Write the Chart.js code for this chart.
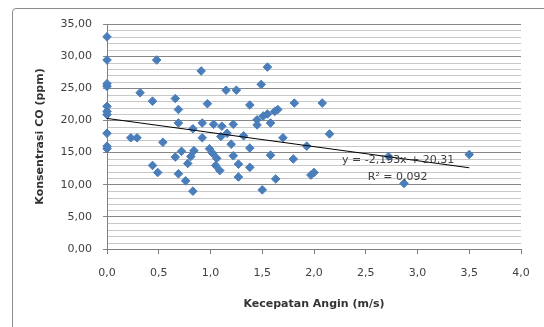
<!DOCTYPE html>
<html>
<head>
<meta charset="utf-8">
<script src="https://cdn.jsdelivr.net/npm/chart.js@4.4.0/dist/chart.umd.min.js"></script>
<style>
  body { margin: 0; background: #fff; }
  #wrap { position: relative; width: 544px; height: 327px; overflow: hidden; }
  #frame { position: absolute; left: 12px; top: 8px; width: 600px; height: 400px; border: 1px solid #8c8c8c; border-radius: 4px; }
  #chart { position: absolute; left: 0; top: 0; }
</style>
</head>
<body>
<div id="wrap">
  <div id="frame"></div>
  <canvas id="chart" width="544" height="327"></canvas>
</div>
<script>
const windSpeed = [
  0, 0, 0, 0, 0, 0, 0, 0, 0, 0,
  0.23, 0.29, 0.32, 0.44, 0.44, 0.48, 0.49, 0.54,
  0.66, 0.69, 0.69, 0.66, 0.69, 0.72, 0.76, 0.78, 0.81, 0.84, 0.83, 0.83, 0.91, 0.92, 0.92, 0.97, 0.99,
  1.03, 1.11, 1.22, 1.10, 1.16, 1.15, 1.25, 1.20, 1.32, 1.02, 1.06, 1.05, 1.09, 1.22, 1.27, 1.27, 1.38, 1.38, 1.38,
  1.45, 1.45, 1.49, 1.51, 1.55, 1.55, 1.58, 1.58, 1.62, 1.65, 1.63, 1.50, 1.70,
  1.81, 1.80, 1.93, 1.97, 2.00, 2.08, 2.15,
  2.72, 2.87, 3.50
]
const coConc = [
  33.0, 29.4, 25.7, 25.3, 22.2, 21.4, 20.9, 18.0, 16.0, 15.6,
  17.3, 17.3, 24.3, 23.0, 13.0, 29.4, 11.9, 16.6,
  23.4, 21.7, 19.6, 14.3, 11.7, 15.2, 10.6, 13.3, 14.4, 15.3, 18.7, 9.0, 27.7, 19.6, 17.3, 22.6, 15.6,
  19.4, 19.1, 19.4, 17.5, 18.0, 24.7, 24.7, 16.3, 17.6, 14.9, 14.1, 13.0, 12.2, 14.5, 13.2, 11.2, 22.4, 15.7, 12.7,
  20.1, 19.3, 25.6, 20.7, 28.3, 21.0, 19.6, 14.6, 21.4, 21.7, 10.9, 9.2, 17.3,
  22.7, 14.0, 16.0, 11.5, 11.9, 22.7, 17.9,
  14.4, 10.2, 14.7
]
const trendSlope = -2.193
const trendIntercept = 20.31
const trendRange = [0, 3.5]
const equationText = 'y = -2,193x + 20,31'
const r2Text = 'R² = 0,092'

const yMax = 35
const yMajorStep = 5
const yMinorStep = 1

const points = windSpeed.map((x, i) => ({ x: x, y: coConc[i] }))
const trendPoints = trendRange.map(x => ({ x: x, y: trendSlope * x + trendIntercept }))

const comma = (v, d) => v.toFixed(d).replace('.', ',')

// minor gridlines every unit, drawn under the major ones
const minorGrid = {
  id: 'minorGrid',
  beforeDraw(chart) {
    const ctx = chart.ctx
    const ys = chart.scales.y
    const area = chart.chartArea
    ctx.save()
    ctx.strokeStyle = '#c8c8c8'
    ctx.lineWidth = 1
    ctx.beginPath()
    for (let v = 0; v <= yMax; v += yMinorStep) {
      if (v % yMajorStep === 0) continue
      const py = Math.round(ys.getPixelForValue(v)) + 0.5
      ctx.moveTo(area.left, py)
      ctx.lineTo(area.right, py)
    }
    ctx.stroke()
    ctx.restore()
  }
}

const equationLabel = {
  id: 'equationLabel',
  afterDatasetsDraw(chart) {
    const ctx = chart.ctx
    const xs = chart.scales.x
    const ys = chart.scales.y
    ctx.save()
    ctx.font = '11px "DejaVu Sans"'
    ctx.fillStyle = '#404040'
    ctx.textBaseline = 'middle'
    ctx.textAlign = 'left'
    ctx.fillText(equationText, xs.getPixelForValue(2.27), ys.getPixelForValue(13.9))
    ctx.fillText(r2Text, xs.getPixelForValue(2.52), ys.getPixelForValue(11.2))
    ctx.restore()
  }
}

new Chart(document.getElementById('chart'), {
  type: 'scatter',
  data: {
    datasets: [
      {
        type: 'line',
        data: trendPoints,
        borderColor: '#000',
        borderWidth: 1,
        pointRadius: 0,
        fill: false
      },
      {
        data: points,
        clip: false,
        pointStyle: 'rectRot',
        pointRadius: 4.3,
        borderWidth: 1,
        backgroundColor: '#4a7ebb',
        borderColor: '#4a7ebb'
      }
    ]
  },
  options: {
    responsive: false,
    animation: false,
    layout: { padding: { top: 24, right: 23, left: 0, bottom: 0 } },
    plugins: { legend: { display: false }, tooltip: { enabled: false } },
    scales: {
      x: {
        type: 'linear',
        min: 0,
        max: 4,
        afterFit: s => { s.height = 78 },
        ticks: {
          stepSize: 0.5,
          padding: 13,
          color: '#404040',
          font: { family: 'DejaVu Sans', size: 11 },
          callback: v => comma(v, 1)
        },
        grid: { drawOnChartArea: false, tickLength: 5, color: '#7f7f7f' },
        border: { color: '#7f7f7f' },
        title: {
          display: true,
          text: 'Kecepatan Angin (m/s)',
          color: '#333',
          font: { family: 'DejaVu Sans', size: 11, weight: 'bold' },
          padding: { bottom: 16 }
        }
      },
      y: {
        min: 0,
        max: yMax,
        afterFit: s => { s.width = 107 },
        ticks: {
          stepSize: yMajorStep,
          padding: 11,
          color: '#404040',
          font: { family: 'DejaVu Sans', size: 11 },
          callback: v => comma(v, 2)
        },
        grid: { tickLength: 4, color: '#868686' },
        border: { color: '#7f7f7f' },
        title: {
          display: true,
          text: 'Konsentrasi CO (ppm)',
          color: '#333',
          font: { family: 'DejaVu Sans', size: 11, weight: 'bold' },
          padding: { top: 34 }
        }
      }
    }
  },
  plugins: [minorGrid, equationLabel]
})
</script>
</body>
</html>
